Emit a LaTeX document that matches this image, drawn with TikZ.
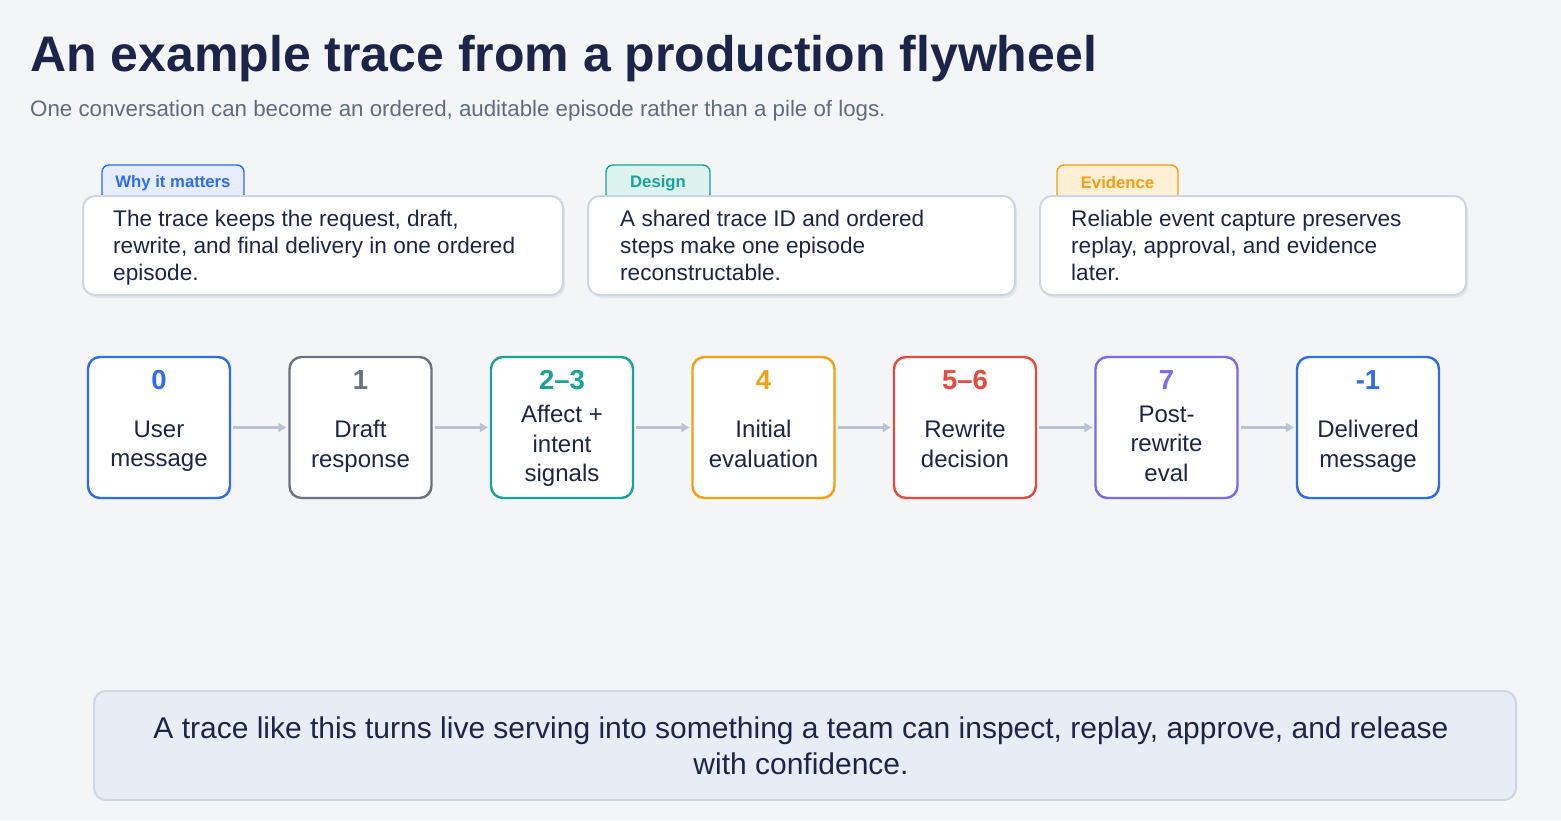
\documentclass[tikz,border=0pt]{standalone}
\usepackage{fontspec}
\setmainfont{Liberation Sans}
\usetikzlibrary{arrows.meta,shadows}
\definecolor{bgcol}{HTML}{F4F5F7}
\definecolor{ink}{HTML}{1C2549}
\definecolor{subgray}{HTML}{5F6B80}
\definecolor{linecol}{HTML}{CDD6E3}
\definecolor{arrowcol}{HTML}{B9C3D3}
\definecolor{cblue}{HTML}{2E6BF0}
\definecolor{cgray}{HTML}{6B7280}
\definecolor{cteal}{HTML}{17A397}
\definecolor{corange}{HTML}{F4A012}
\definecolor{cred}{HTML}{E8493C}
\definecolor{cpurple}{HTML}{7B68F5}
\definecolor{tblue}{HTML}{E5EDFF}
\definecolor{tteal}{HTML}{DDF3EF}
\definecolor{torange}{HTML}{FFEFD5}
\definecolor{notefill}{HTML}{E8EDF5}
\tikzset{
  tag/.style={rounded corners=7pt, line width=1.4pt, minimum height=36pt,
    font=\fontsize{16.7}{19}\selectfont\bfseries, inner sep=0pt},
  card/.style={rounded corners=12pt, draw=linecol, line width=2pt, fill=white,
    minimum height=99pt, inner sep=0pt,
    drop shadow={opacity=0.12, shadow xshift=2pt, shadow yshift=-3pt}},
  cardtxt/.style={anchor=west, align=left, text=ink, inner sep=0pt,
    font=\fontsize{22.6}{27}\selectfont,
    execute at begin node=\strut, execute at end node=\strut},
  stepbox/.style={rounded corners=12pt, line width=2.4pt, fill=white,
    minimum width=142pt, minimum height=141pt, inner sep=0pt},
  stepnum/.style={font=\fontsize{27.5}{32}\selectfont\bfseries, inner sep=0pt},
  steplbl/.style={align=center, text=ink, inner sep=0pt,
    font=\fontsize{24}{29.5}\selectfont,
    execute at begin node=\strut, execute at end node=\strut}
}
\begin{document}
\begin{tikzpicture}[x=1pt,y=-1pt]
\fill[bgcol] (0,0) rectangle (1561,820);
\useasboundingbox (0,0) rectangle (1561,820);

% heading
\node[anchor=base west, inner sep=0pt, text=ink, font=\fontsize{50}{58}\selectfont\bfseries]
  (title) at (30,71) {An example trace from a production flywheel};
\node[anchor=base west, inner sep=0pt, text=subgray, font=\fontsize{22.3}{26}\selectfont]
  (subtitle) at (30,116) {One conversation can become an ordered, auditable episode rather than a pile of logs.};

% tags sit behind the cards
\node[tag, draw=cblue, fill=tblue, text=cblue, minimum width=142pt] (whytag) at (173,183) {Why it matters};
\node[tag, draw=cteal, fill=tteal, text=cteal, minimum width=104pt] (designtag) at (658,183) {Design};
\node[tag, draw=corange, fill=torange, text=corange, minimum width=121pt] (evidtag) at (1117.5,183) {Evidence};

\node[card, minimum width=480pt] (whycard) at (323,245.5) {};
\node[card, minimum width=427pt] (designcard) at (801.5,245.5) {};
\node[card, minimum width=426pt] (evidcard) at (1253,245.5) {};
\node[cardtxt] (whytxt) at ([xshift=31pt, yshift=-4pt]whycard.west) {The trace keeps the request, draft,\\rewrite, and final delivery in one ordered\\episode.};
\node[cardtxt] (designtxt) at ([xshift=33pt, yshift=-4pt]designcard.west) {A shared trace ID and ordered\\steps make one episode\\reconstructable.};
\node[cardtxt] (evidtxt) at ([xshift=32pt, yshift=-4pt]evidcard.west) {Reliable event capture preserves\\replay, approval, and evidence\\later.};

% steps of the trace
\begin{scope}
\node[stepbox, draw=cblue] (s0) at (159,427.5) {};
\node[stepbox, draw=cgray] (s1) at (360.5,427.5) {};
\node[stepbox, draw=cteal] (s23) at (562,427.5) {};
\node[stepbox, draw=corange] (s4) at (763.5,427.5) {};
\node[stepbox, draw=cred] (s56) at (965,427.5) {};
\node[stepbox, draw=cpurple] (s7) at (1166.5,427.5) {};
\node[stepbox, draw=cblue] (sm1) at (1368,427.5) {};
\end{scope}
\begin{scope}
\node[stepnum, text=cblue] (n0) at (159,380) {0};
\node[stepnum, text=cgray] (n1) at (360.5,380) {1};
\node[stepnum, text=cteal] (n23) at (562,380) {2–3};
\node[stepnum, text=corange] (n4) at (763.5,380) {4};
\node[stepnum, text=cred] (n56) at (965,380) {5–6};
\node[stepnum, text=cpurple] (n7) at (1166.5,380) {7};
\node[stepnum, text=cblue] (nm1) at (1368,380) {-1};
\end{scope}
\begin{scope}
\node[steplbl] (l0) at (159,448) {User\\message};
\node[steplbl] (l1) at (360.5,448) {Draft\\response};
\node[steplbl] (l23) at (562,448) {Affect +\\intent\\signals};
\node[steplbl] (l4) at (763.5,448) {Initial\\evaluation};
\node[steplbl] (l56) at (965,448) {Rewrite\\decision};
\node[steplbl] (l7) at (1166.5,448) {Post-\\rewrite\\eval};
\node[steplbl] (lm1) at (1368,448) {Delivered\\message};
\end{scope}
\begin{scope}[every edge/.style={draw=arrowcol, line width=2.2pt,
    -{Triangle[length=8pt, width=9pt]}, shorten <=2pt, shorten >=2pt}]
\path (s0) edge (s1);
\path (s1) edge (s23);
\path (s23) edge (s4);
\path (s4) edge (s56);
\path (s56) edge (s7);
\path (s7) edge (sm1);
\end{scope}

% closing note
\node[rounded corners=12pt, draw=linecol, line width=2pt, fill=notefill,
  minimum width=1422pt, minimum height=109pt] (note) at (805,745.5) {};
\node[align=center, text=ink, inner sep=0pt, font=\fontsize{30}{36}\selectfont]
  (notetxt) at ([xshift=-4pt]note.center)
  {A trace like this turns live serving into something a team can inspect, replay, approve, and release\\with confidence.};
\end{tikzpicture}
\end{document}
